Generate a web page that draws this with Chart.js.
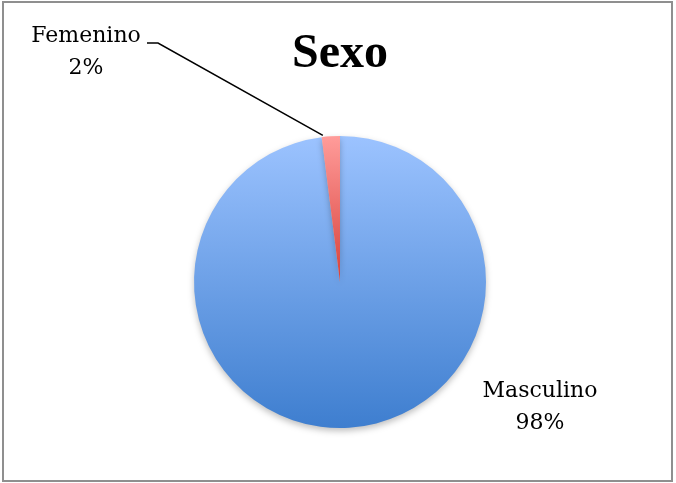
<!DOCTYPE html>
<html>
<head>
<meta charset="utf-8">
<title>Sexo</title>
<script src="https://cdn.jsdelivr.net/npm/chart.js@4"></script>
<style>
  html, body { margin: 0; padding: 0; background: #fff; }
  #wrap { position: relative; width: 676px; height: 483px; }
</style>
</head>
<body>
<div id="wrap"><canvas id="sexoChart"></canvas></div>
<script>
// ── data ──────────────────────────────
const categories = ['Masculino', 'Femenino'];
const percents = [98, 2];
const chartTitle = 'Sexo';

// top / bottom colours of each slice's gradient
const sliceTop = ['#9cc3ff', '#ff9c9a'];
const sliceBottom = ['#3e7ecf', '#d8403a'];

const titleFont = "'Liberation Serif', serif";
const labelFont = "'DejaVu Serif', serif";

function sliceFill(ctx) {
  const area = ctx.chart.chartArea;
  if (!area) return sliceTop[ctx.dataIndex];
  const top = area.top;
  // the small slice fades only down to the centre, the big one across the whole disc
  const bottom = ctx.dataIndex === 0 ? area.bottom : (area.top + area.bottom) / 2;
  if (!isFinite(top) || !isFinite(bottom)) return sliceTop[ctx.dataIndex];
  const grad = ctx.chart.ctx.createLinearGradient(0, top, 0, bottom);
  grad.addColorStop(0, sliceTop[ctx.dataIndex]);
  grad.addColorStop(1, sliceBottom[ctx.dataIndex]);
  return grad;
}

// soft shadow under the pie
const pieShadow = {
  id: 'pieShadow',
  beforeDatasetDraw(chart) {
    const c = chart.ctx;
    c.save();
    c.shadowColor = 'rgba(0,0,0,0.25)';
    c.shadowBlur = 6;
    c.shadowOffsetY = 3;
  },
  afterDatasetDraw(chart) {
    chart.ctx.restore();
  }
};

// frame, title and slice labels
const decorations = {
  id: 'decorations',
  afterDraw(chart) {
    const c = chart.ctx;
    const meta = chart.getDatasetMeta(0);
    const big = meta.data[0];
    const small = meta.data[1];
    const total = percents.reduce((a, b) => a + b, 0);

    c.save();
    c.strokeStyle = '#8f8f8f';
    c.lineWidth = 2;
    c.strokeRect(3, 2, 669, 479);

    c.fillStyle = '#000';
    c.textAlign = 'center';
    c.textBaseline = 'middle';
    c.font = 'bold 48px ' + titleFont;
    c.fillText(chartTitle, big.x, 55);

    c.font = '22px ' + labelFont;
    // Femenino: label up-left with leader line to the slice edge
    const mid = (small.startAngle + small.endAngle) / 2;
    const ex = small.x + Math.cos(mid) * small.outerRadius;
    const ey = small.y + Math.sin(mid) * small.outerRadius;
    const fx = small.x - 254, fy = small.y - 246;
    c.fillText(categories[1], fx, fy);
    c.fillText(Math.round(percents[1] / total * 100) + '%', fx, fy + 32);
    c.strokeStyle = '#000';
    c.lineWidth = 1.5;
    c.beginPath();
    c.moveTo(fx + 61, fy + 7);
    c.lineTo(fx + 72, fy + 7);
    c.lineTo(ex - 8, ey - 1);
    c.stroke();

    // Masculino: label to the lower right of the disc
    const mx = big.x + 200, my = big.y + 109;
    c.fillText(categories[0], mx, my);
    c.fillText(Math.round(percents[0] / total * 100) + '%', mx, my + 32);
    c.restore();
  }
};

new Chart(document.getElementById('sexoChart'), {
  type: 'pie',
  data: {
    labels: categories,
    datasets: [{
      data: percents,
      backgroundColor: sliceFill,
      borderWidth: 0,
      hoverOffset: 0
    }]
  },
  options: {
    responsive: true,
    maintainAspectRatio: false,
    animation: false,
    layout: { padding: { top: 136, bottom: 55, left: 194, right: 190 } },
    plugins: {
      legend: { display: false },
      title: { display: false },
      tooltip: { enabled: false }
    }
  },
  plugins: [pieShadow, decorations]
});
</script>
</body>
</html>
